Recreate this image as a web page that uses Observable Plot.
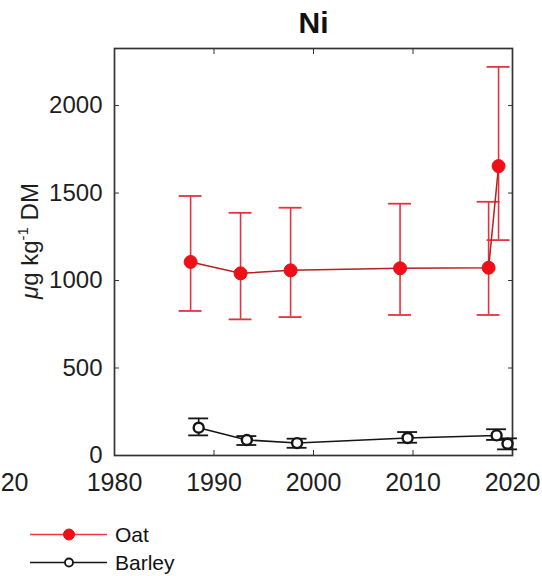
<!DOCTYPE html>
<html>
<head>
<meta charset="utf-8">
<script src="https://cdn.jsdelivr.net/npm/d3@7"></script>
<script src="https://cdn.jsdelivr.net/npm/@observablehq/plot@0.6"></script>
<style>
  html, body { margin: 0; padding: 0; background: #fff; }
  body { position: relative; width: 542px; height: 576px; overflow: hidden; font-family: "Liberation Sans", Arial, sans-serif; }
  #chart { position: absolute; left: 0; top: 0; }
  .legend { position: absolute; left: 0; top: 519px; width: 300px; }
  .row { position: relative; height: 28px; }
  .row svg { position: absolute; left: 0; top: 0; }
  .row span { position: absolute; left: 115px; top: 2px; font-size: 21px; color: #111; line-height: 28px; }
</style>
</head>
<body>
<div id="chart"></div>
<div class="legend" id="legend"></div>
<script>
// ---- data ----
const title = "Ni";
const yLabel = "μg kg-1 DM";
const seriesNames = ["Oat", "Barley"];
const xTicks = [1980, 1990, 2000, 2010, 2020];
const yTicks = [0, 500, 1000, 1500, 2000];
const clippedLabel = ["20"];

const oatYears  = [1987.65, 1992.67, 1997.7, 2008.7, 2017.6, 2018.6];
const oatValues = [1106, 1041, 1058, 1070, 1073, 1654];
const oatLow    = [826, 778, 791, 803, 803, 1231];
const oatHigh   = [1483, 1387, 1416, 1439, 1450, 2221];

const barleyYears  = [1988.46, 1993.3, 1998.35, 2009.46, 2018.4, 2019.5];
const barleyValues = [159, 89, 71, 100, 115, 67];
const barleyLow    = [115, 60, 44, 73, 89, 35];
const barleyHigh   = [212, 111, 96, 134, 150, 98];

// ---- tables ----
const oat = oatYears.map((year, i) => ({year, value: oatValues[i], lo: oatLow[i], hi: oatHigh[i]}));
const barley = barleyYears.map((year, i) => ({year, value: barleyValues[i], lo: barleyLow[i], hi: barleyHigh[i]}));

const oatRed = "#ee1018";
const oatBar = "#e2343e";
const oatLine = "#b52020";
const black = "#151515";
const axisColor = "#333";
const textColor = "#1e1e1e";

function errorMarks(data, color, half) {
  return [
    Plot.ruleX(data, {x: "year", y1: "lo", y2: "hi", stroke: color, strokeWidth: 1.6}),
    Plot.ruleY(data, {y: "hi", x1: d => d.year - half, x2: d => d.year + half, stroke: color, strokeWidth: 1.8}),
    Plot.ruleY(data, {y: "lo", x1: d => d.year - half, x2: d => d.year + half, stroke: color, strokeWidth: 1.8})
  ];
}

const chart = Plot.plot({
  width: 542,
  height: 500,
  marginTop: 48,
  marginBottom: 45,
  marginLeft: 114,
  marginRight: 30,
  style: {fontFamily: "'Liberation Sans', Arial, sans-serif", fontSize: "24px", color: textColor, background: "white", overflow: "visible"},
  x: {domain: [1980, 2020]},
  y: {domain: [0, 2326]},
  marks: [
    Plot.axisX({ticks: xTicks, anchor: "bottom", tickSize: 0, tickPadding: 18, tickFormat: d => String(d), label: null, fontSize: 25}),
    Plot.axisX({ticks: xTicks, anchor: "bottom", tickSize: -5, text: null, label: null, stroke: axisColor}),
    Plot.axisX({ticks: xTicks, anchor: "top", tickSize: -5, text: null, label: null, stroke: axisColor}),
    Plot.axisY({ticks: yTicks, anchor: "left", tickSize: 0, tickPadding: 12, tickFormat: d => String(d), label: null, fontSize: 24}),
    Plot.axisY({ticks: yTicks, anchor: "left", tickSize: -5, text: null, label: null, stroke: axisColor}),
    Plot.axisY({ticks: yTicks, anchor: "right", tickSize: -5, text: null, label: null, stroke: axisColor}),
    Plot.frame({stroke: axisColor, strokeWidth: 1.7}),
    ...errorMarks(oat, oatBar, 1.15),
    Plot.line(oat, {x: "year", y: "value", stroke: oatLine, strokeWidth: 1.5}),
    Plot.dot(oat, {x: "year", y: "value", r: 6.5, fill: oatRed, stroke: oatRed, strokeWidth: 1}),
    ...errorMarks(barley, black, 1.0),
    Plot.line(barley, {x: "year", y: "value", stroke: black, strokeWidth: 1.5}),
    Plot.dot(barley, {x: "year", y: "value", r: 5, fill: "white", stroke: black, strokeWidth: 2.4}),
    Plot.text([title], {text: d => d, frameAnchor: "top", lineAnchor: "middle", textAnchor: "middle", dy: -25, fontWeight: "bold", fontSize: 30, fill: "#111"}),
    Plot.text([yLabel], {text: d => d, frameAnchor: "left", textAnchor: "middle", lineAnchor: "middle", rotate: -90, dx: -84, dy: -11, fontSize: 24, fill: textColor}),
    Plot.text(clippedLabel, {text: d => d, frameAnchor: "bottom-left", dx: -86, dy: 18, textAnchor: "end", lineAnchor: "top", fontSize: 25, fill: textColor})
  ]
});
document.getElementById("chart").appendChild(chart);

// rich y label: italic μ and superscript -1
const yl = d3.select(chart).selectAll("text").filter(function () { return this.textContent === yLabel; });
if (!yl.empty()) {
  yl.text(null);
  yl.append("tspan").attr("font-style", "italic").text("μ");
  yl.append("tspan").text("g kg");
  yl.append("tspan").attr("font-size", 15).attr("dy", -10).text("-1");
  yl.append("tspan").attr("dy", 10).text(" DM");
}

// legend
const legend = d3.select("#legend");
const styles = [
  {name: seriesNames[0], line: "#f03a40", fill: oatRed, stroke: oatRed, r: 5.5, sw: 1},
  {name: seriesNames[1], line: black, fill: "white", stroke: black, r: 4, sw: 1.8}
];
for (const s of styles) {
  const row = legend.append("div").attr("class", "row");
  const svg = row.append("svg").attr("width", 112).attr("height", 28);
  svg.append("line").attr("x1", 30).attr("x2", 107).attr("y1", 15.5).attr("y2", 15.5).attr("stroke", s.line).attr("stroke-width", 1.4);
  svg.append("circle").attr("cx", 69).attr("cy", 15.5).attr("r", s.r).attr("fill", s.fill).attr("stroke", s.stroke).attr("stroke-width", s.sw);
  row.append("span").text(s.name);
}
</script>
</body>
</html>
